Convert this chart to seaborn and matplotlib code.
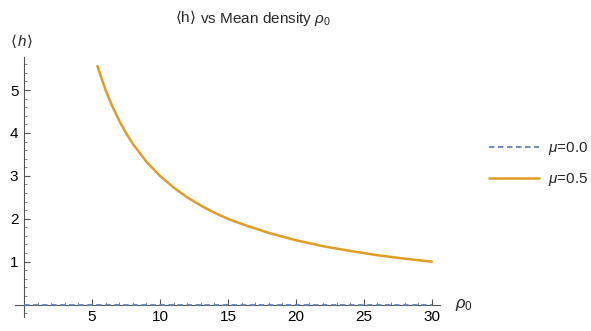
import numpy as np
import matplotlib
matplotlib.use("Agg")
import matplotlib.pyplot as plt
from matplotlib.ticker import MultipleLocator, FixedLocator
import seaborn as sns
import pandas as pd

sns.set_style("white")
plt.rcParams["font.family"] = ["Liberation Sans", "DejaVu Sans"]
plt.rcParams["mathtext.fontset"] = "custom"
plt.rcParams["mathtext.rm"] = "Liberation Sans"
plt.rcParams["mathtext.it"] = "Liberation Sans:italic"

# values
rho_mu00 = [0.0, 30.0]
h_mu00 = [0.0, 0.0]

rho_mu05 = [5.4, 6, 6.5, 7, 7.5, 8, 9, 10, 11, 12, 13, 14, 15, 16, 18, 20, 22, 24, 26, 28, 30]
h_mu05 = [5.56, 5.0, 4.62, 4.29, 4.0, 3.75, 3.33, 3.0, 2.73, 2.5, 2.31, 2.14, 2.0,
          1.88, 1.67, 1.5, 1.36, 1.25, 1.15, 1.07, 1.0]

blue = "#5E81B5"
orange = "#E19C24"

df0 = pd.DataFrame({"rho": rho_mu00, "h": h_mu00})
df1 = pd.DataFrame({"rho": rho_mu05, "h": h_mu05})

fig = plt.figure(figsize=(5.91, 3.31), dpi=100)
ax = fig.add_axes([15 / 591, 1 - 317 / 331, 425 / 591, 260 / 331])

sns.lineplot(data=df1, x="rho", y="h", color=orange, lw=1.8, ax=ax, label=r"$\mu$=0.5", zorder=3)
sns.lineplot(data=df0, x="rho", y="h", color=blue, lw=1.3, ls=(0, (3, 2)), ax=ax,
             label=r"$\mu$=0.0", zorder=4)

ax.set_xlim(-0.66, 30.6)
ax.set_ylim(-0.29, 5.77)

for s in ["top", "right"]:
    ax.spines[s].set_visible(False)
ax.spines["left"].set_position(("data", 0))
ax.spines["bottom"].set_position(("data", 0))
for s in ["left", "bottom"]:
    ax.spines[s].set_color("#555555")
    ax.spines[s].set_linewidth(0.8)

ax.xaxis.set_major_locator(FixedLocator([5, 10, 15, 20, 25, 30]))
ax.xaxis.set_minor_locator(MultipleLocator(1))
ax.yaxis.set_major_locator(FixedLocator([1, 2, 3, 4, 5]))
ax.yaxis.set_minor_locator(MultipleLocator(0.2))
ax.tick_params(which="both", bottom=True, left=True, top=False, right=False)
ax.tick_params(which="major", direction="in", length=4, width=0.8, color="#555555",
               labelsize=11, labelcolor="black", pad=4)
ax.tick_params(which="minor", direction="in", length=2.2, width=0.6, color="#777777")
ax.set_xlabel("")
ax.set_ylabel("")

handles, labels = ax.get_legend_handles_labels()
order = [1, 0]
ax.legend([handles[i] for i in order], [labels[i] for i in order],
          loc="center left", bbox_to_anchor=(475 / 591, 1 - 164 / 331),
          bbox_transform=fig.transFigure, frameon=False, fontsize=11,
          handlelength=3.3, handletextpad=0.6, labelspacing=0.9)


def pieces_text(xc, yc, pieces, size):
    # place text runs side by side, centred on (xc, yc) in pixels
    renderer = fig.canvas.get_renderer()
    texts = []
    for s, fam in pieces:
        t = fig.text(0, 0, s, fontsize=size, family=fam, va="baseline", ha="left")
        texts.append(t)
    widths = [t.get_window_extent(renderer).width for t in texts]
    x = xc - sum(widths) / 2
    yb = 331 - yc - size * 100 / 72 * 0.36
    for t, w in zip(texts, widths):
        t.set_position((x / 591, yb / 331))
        x += w


fig.canvas.draw()
pieces_text(253, 17, [("⟨", "DejaVu Sans"), ("h", "Liberation Sans"),
                      ("⟩", "DejaVu Sans"), (r" vs Mean density $\rho_0$", "Liberation Sans")], 11)
pieces_text(22, 40, [("⟨", "DejaVu Sans"), ("$h$", "Liberation Sans"),
                     ("⟩", "DejaVu Sans")], 11)
fig.text(455 / 591, 1 - 305 / 331, r"$\rho_0$", fontsize=12, ha="left", va="center")

fig.savefig("out.png", dpi=100)
